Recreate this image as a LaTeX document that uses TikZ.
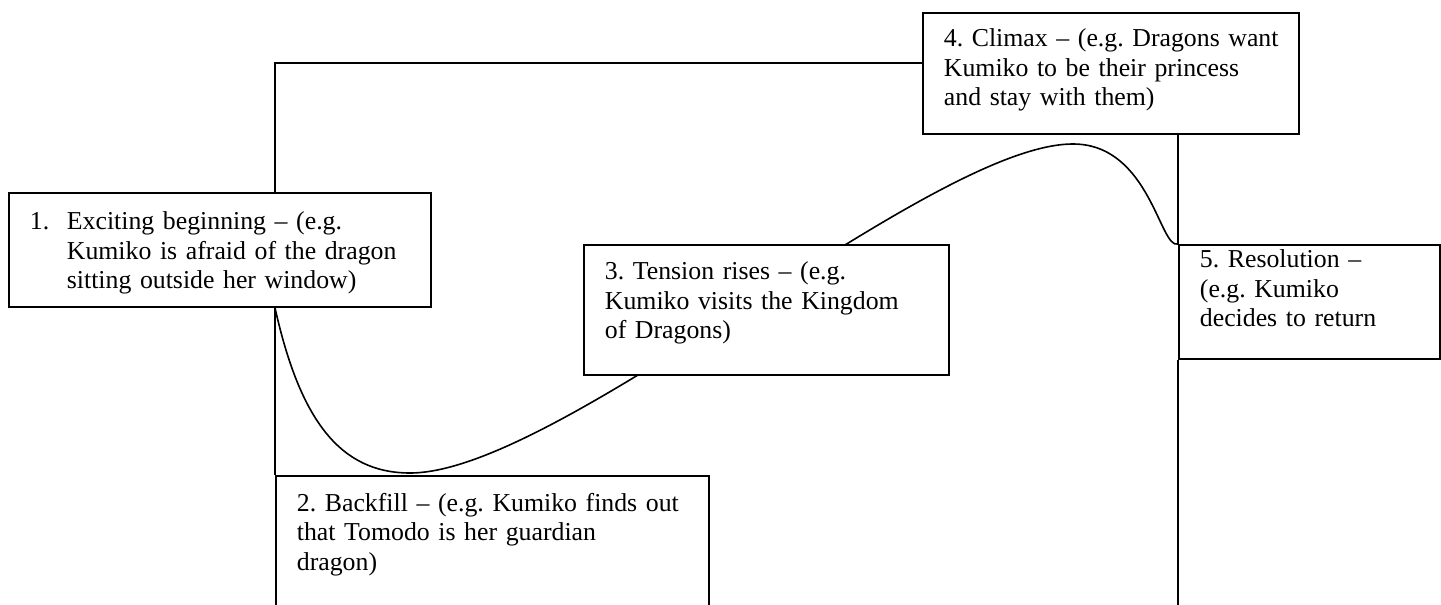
\documentclass[tikz,border=0pt]{standalone}
\usepackage{fontspec}
\setmainfont{Liberation Serif}
\usetikzlibrary{positioning,backgrounds}

\newcommand\storyfont{\fontsize{12.9}{14.75}\selectfont\frenchspacing}

\begin{document}
\begin{tikzpicture}[
  x=0.5pt, y=-0.5pt,
  line width=0.9pt,
  box/.style={
    draw,
    fill=white,
    anchor=north west,
    align=left,
    inner sep=0pt,
    font=\storyfont,
    execute at begin node={\leftskip=10.5pt\relax}
  },
  curve/.style={line width=0.8pt}
]
  \useasboundingbox (0,0) rectangle (1441,605);
  \clip (0,0) rectangle (1441,605);

  % story stages
  \node[box,text width=211pt,text height=18.5pt,text depth=38.5pt] (b1) at (8,192)
    {\makebox[18.5pt][l]{1.}Exciting beginning -- (e.g.\\
     \hspace*{18.5pt}Kumiko is afraid of the dragon\\
     \hspace*{18.5pt}sitting outside her window)};
  \node[box,text width=216.5pt,text height=17.75pt,text depth=62.25pt] (b2) at (275,475)
    {2. Backfill -- (e.g. Kumiko finds out\\ that Tomodo is her guardian\\ dragon)};
  \node[box,text width=182.5pt,text height=17.5pt,text depth=47.5pt] (b3) at (583,244)
    {3. Tension rises -- (e.g.\\ Kumiko visits the Kingdom\\ of Dragons)};
  \node[box,text width=188pt,text height=17pt,text depth=43.5pt] (b4) at (922,12)
    {4. Climax -- (e.g. Dragons want\\ Kumiko to be their princess\\ and stay with them)};
  \node[box,text width=130.5pt,text height=11.5pt,text depth=45.5pt] (b5) at (1178,244)
    {5. Resolution --\\ (e.g. Kumiko\\ decides to return};

  \coordinate (turn) at (275,63);
  \coordinate (dip) at (410,473);
  \coordinate (peak) at (1073,144);
  \coordinate (floor) at (1178,620);

  % story curve, behind the boxes
  \begin{scope}[on background layer]
    \draw[curve] (b1.south -| b2.north west) .. controls (300,420) and (340,473) .. (dip)
      .. controls (560,473) and (930,144) .. (peak)
      .. controls (1150,144) and (1160,250) .. (b5.north west);
  \end{scope}

  % frame lines
  \draw (b1.north -| turn) -- (turn) -- (turn -| b4.west);
  \draw (b1.south -| b2.north west) -- (b2.north west);
  \draw (b4.south -| b5.north west) -- (b5.north west);
  \draw (b5.south west) -- (floor);
\end{tikzpicture}
\end{document}
